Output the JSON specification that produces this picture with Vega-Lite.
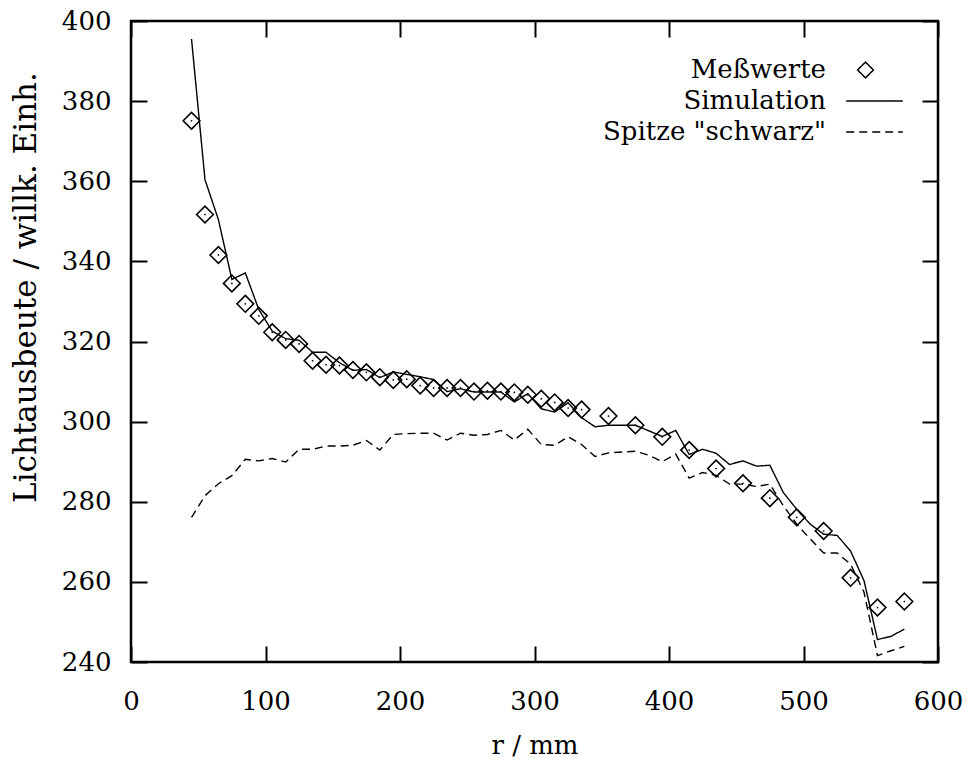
{
  "$schema": "https://vega.github.io/schema/vega-lite/v6.json",
  "width": 807,
  "height": 641,
  "autosize": {"type": "none"},
  "padding": {"left": 131, "top": 21, "right": 31, "bottom": 100},
  "background": "white",
  "config": {
    "view": {"stroke": "black", "strokeWidth": 2.5},
    "font": "DejaVu Serif",
    "axis": {
      "domain": false,
      "grid": false,
      "labelFlush": false,
      "labelOverlap": false,
      "tickColor": "black",
      "tickWidth": 2,
      "tickSize": -16,
      "labelFont": "DejaVu Serif",
      "labelFontSize": 26,
      "labelColor": "black",
      "titleFont": "DejaVu Serif",
      "titleFontSize": 26,
      "titleFontWeight": "normal",
      "titleColor": "black"
    },
    "legend": {
      "orient": "none", "legendX": 714, "legendY": 31, "title": null, "padding": 0,
      "rowPadding": 0, "symbolSize": 900,
      "symbolStrokeColor": "black", "symbolStrokeWidth": 1.5, "symbolFillColor": "transparent",
      "labelFont": "DejaVu Serif", "labelFontSize": 26, "labelColor": "black",
      "labelAlign": "right", "labelOffset": -78, "labelLimit": 400
    }
  },
  "datasets": {
    "mess": [
      {"series": "Meßwerte", "r": 45, "v": 375.1}, {"series": "Meßwerte", "r": 55, "v": 351.7},
      {"series": "Meßwerte", "r": 65, "v": 341.6}, {"series": "Meßwerte", "r": 75, "v": 334.5},
      {"series": "Meßwerte", "r": 85, "v": 329.4}, {"series": "Meßwerte", "r": 95, "v": 326.4},
      {"series": "Meßwerte", "r": 105, "v": 322.3}, {"series": "Meßwerte", "r": 115, "v": 320.4},
      {"series": "Meßwerte", "r": 125, "v": 319.4}, {"series": "Meßwerte", "r": 135, "v": 315.2},
      {"series": "Meßwerte", "r": 145, "v": 314.2}, {"series": "Meßwerte", "r": 155, "v": 314.0},
      {"series": "Meßwerte", "r": 165, "v": 312.9}, {"series": "Meßwerte", "r": 175, "v": 312.3},
      {"series": "Meßwerte", "r": 185, "v": 311.1}, {"series": "Meßwerte", "r": 195, "v": 310.4},
      {"series": "Meßwerte", "r": 205, "v": 310.6}, {"series": "Meßwerte", "r": 215, "v": 309.0},
      {"series": "Meßwerte", "r": 225, "v": 308.4}, {"series": "Meßwerte", "r": 235, "v": 308.4},
      {"series": "Meßwerte", "r": 245, "v": 308.4}, {"series": "Meßwerte", "r": 255, "v": 307.5},
      {"series": "Meßwerte", "r": 265, "v": 307.7}, {"series": "Meßwerte", "r": 275, "v": 307.5},
      {"series": "Meßwerte", "r": 285, "v": 307.3}, {"series": "Meßwerte", "r": 295, "v": 306.7},
      {"series": "Meßwerte", "r": 305, "v": 305.7}, {"series": "Meßwerte", "r": 315, "v": 304.8},
      {"series": "Meßwerte", "r": 325, "v": 303.4}, {"series": "Meßwerte", "r": 335, "v": 303.0},
      {"series": "Meßwerte", "r": 355, "v": 301.4}, {"series": "Meßwerte", "r": 375, "v": 299.1},
      {"series": "Meßwerte", "r": 395, "v": 296.2}, {"series": "Meßwerte", "r": 415, "v": 292.9},
      {"series": "Meßwerte", "r": 435, "v": 288.3}, {"series": "Meßwerte", "r": 455, "v": 284.6},
      {"series": "Meßwerte", "r": 475, "v": 280.9}, {"series": "Meßwerte", "r": 495, "v": 276.1},
      {"series": "Meßwerte", "r": 515, "v": 272.7}, {"series": "Meßwerte", "r": 535, "v": 261.0},
      {"series": "Meßwerte", "r": 555, "v": 253.6}, {"series": "Meßwerte", "r": 575, "v": 255.1}
    ],
    "lines": [
      {"series": "Simulation", "r": 45, "v": 395.5}, {"series": "Simulation", "r": 55, "v": 360.4},
      {"series": "Simulation", "r": 65, "v": 350.4}, {"series": "Simulation", "r": 75, "v": 335.5},
      {"series": "Simulation", "r": 85, "v": 337.1}, {"series": "Simulation", "r": 95, "v": 328.0},
      {"series": "Simulation", "r": 105, "v": 322.6}, {"series": "Simulation", "r": 115, "v": 320.7},
      {"series": "Simulation", "r": 125, "v": 320.3}, {"series": "Simulation", "r": 135, "v": 317.3},
      {"series": "Simulation", "r": 145, "v": 317.3}, {"series": "Simulation", "r": 155, "v": 314.7},
      {"series": "Simulation", "r": 165, "v": 312.8}, {"series": "Simulation", "r": 175, "v": 313.0},
      {"series": "Simulation", "r": 185, "v": 311.0}, {"series": "Simulation", "r": 195, "v": 312.4},
      {"series": "Simulation", "r": 205, "v": 311.8}, {"series": "Simulation", "r": 215, "v": 311.2},
      {"series": "Simulation", "r": 225, "v": 310.5}, {"series": "Simulation", "r": 235, "v": 307.5},
      {"series": "Simulation", "r": 245, "v": 308.2}, {"series": "Simulation", "r": 255, "v": 307.4},
      {"series": "Simulation", "r": 265, "v": 307.4}, {"series": "Simulation", "r": 275, "v": 307.4},
      {"series": "Simulation", "r": 285, "v": 304.9}, {"series": "Simulation", "r": 295, "v": 307.0},
      {"series": "Simulation", "r": 305, "v": 303.2}, {"series": "Simulation", "r": 315, "v": 302.4},
      {"series": "Simulation", "r": 325, "v": 304.7}, {"series": "Simulation", "r": 335, "v": 301.0},
      {"series": "Simulation", "r": 345, "v": 298.7}, {"series": "Simulation", "r": 355, "v": 299.1},
      {"series": "Simulation", "r": 365, "v": 299.1}, {"series": "Simulation", "r": 375, "v": 299.1},
      {"series": "Simulation", "r": 385, "v": 297.7}, {"series": "Simulation", "r": 395, "v": 296.3},
      {"series": "Simulation", "r": 405, "v": 297.8}, {"series": "Simulation", "r": 415, "v": 291.8},
      {"series": "Simulation", "r": 425, "v": 293.1}, {"series": "Simulation", "r": 435, "v": 292.1},
      {"series": "Simulation", "r": 445, "v": 289.3}, {"series": "Simulation", "r": 455, "v": 290.2},
      {"series": "Simulation", "r": 465, "v": 288.9}, {"series": "Simulation", "r": 475, "v": 289.1},
      {"series": "Simulation", "r": 485, "v": 282.3}, {"series": "Simulation", "r": 495, "v": 278.1},
      {"series": "Simulation", "r": 505, "v": 274.4}, {"series": "Simulation", "r": 515, "v": 271.9},
      {"series": "Simulation", "r": 525, "v": 271.6}, {"series": "Simulation", "r": 535, "v": 267.7},
      {"series": "Simulation", "r": 545, "v": 260.3}, {"series": "Simulation", "r": 555, "v": 245.6},
      {"series": "Simulation", "r": 565, "v": 246.4}, {"series": "Simulation", "r": 575, "v": 248.2},
      {"series": "Spitze \"schwarz\"", "r": 45, "v": 276.1}, {"series": "Spitze \"schwarz\"", "r": 55, "v": 281.5},
      {"series": "Spitze \"schwarz\"", "r": 65, "v": 284.5}, {"series": "Spitze \"schwarz\"", "r": 75, "v": 286.5},
      {"series": "Spitze \"schwarz\"", "r": 85, "v": 290.6}, {"series": "Spitze \"schwarz\"", "r": 95, "v": 290.2},
      {"series": "Spitze \"schwarz\"", "r": 105, "v": 290.8}, {"series": "Spitze \"schwarz\"", "r": 115, "v": 289.9},
      {"series": "Spitze \"schwarz\"", "r": 125, "v": 293.1}, {"series": "Spitze \"schwarz\"", "r": 135, "v": 293.1},
      {"series": "Spitze \"schwarz\"", "r": 145, "v": 293.9}, {"series": "Spitze \"schwarz\"", "r": 155, "v": 293.9},
      {"series": "Spitze \"schwarz\"", "r": 165, "v": 294.1}, {"series": "Spitze \"schwarz\"", "r": 175, "v": 295.3},
      {"series": "Spitze \"schwarz\"", "r": 185, "v": 292.9}, {"series": "Spitze \"schwarz\"", "r": 195, "v": 296.8},
      {"series": "Spitze \"schwarz\"", "r": 205, "v": 297.0}, {"series": "Spitze \"schwarz\"", "r": 215, "v": 297.1},
      {"series": "Spitze \"schwarz\"", "r": 225, "v": 297.1}, {"series": "Spitze \"schwarz\"", "r": 235, "v": 295.4},
      {"series": "Spitze \"schwarz\"", "r": 245, "v": 297.1}, {"series": "Spitze \"schwarz\"", "r": 255, "v": 296.6},
      {"series": "Spitze \"schwarz\"", "r": 265, "v": 296.8}, {"series": "Spitze \"schwarz\"", "r": 275, "v": 297.8},
      {"series": "Spitze \"schwarz\"", "r": 285, "v": 295.4}, {"series": "Spitze \"schwarz\"", "r": 295, "v": 298.1},
      {"series": "Spitze \"schwarz\"", "r": 305, "v": 294.3}, {"series": "Spitze \"schwarz\"", "r": 315, "v": 294.1},
      {"series": "Spitze \"schwarz\"", "r": 325, "v": 296.2}, {"series": "Spitze \"schwarz\"", "r": 335, "v": 294.3},
      {"series": "Spitze \"schwarz\"", "r": 345, "v": 291.3}, {"series": "Spitze \"schwarz\"", "r": 355, "v": 292.2},
      {"series": "Spitze \"schwarz\"", "r": 365, "v": 292.4}, {"series": "Spitze \"schwarz\"", "r": 375, "v": 292.6},
      {"series": "Spitze \"schwarz\"", "r": 385, "v": 291.6}, {"series": "Spitze \"schwarz\"", "r": 395, "v": 290.0},
      {"series": "Spitze \"schwarz\"", "r": 405, "v": 291.9}, {"series": "Spitze \"schwarz\"", "r": 415, "v": 285.9},
      {"series": "Spitze \"schwarz\"", "r": 425, "v": 287.3}, {"series": "Spitze \"schwarz\"", "r": 435, "v": 286.6},
      {"series": "Spitze \"schwarz\"", "r": 445, "v": 284.4}, {"series": "Spitze \"schwarz\"", "r": 455, "v": 284.4},
      {"series": "Spitze \"schwarz\"", "r": 465, "v": 283.8}, {"series": "Spitze \"schwarz\"", "r": 475, "v": 284.4},
      {"series": "Spitze \"schwarz\"", "r": 485, "v": 279.0}, {"series": "Spitze \"schwarz\"", "r": 495, "v": 274.4},
      {"series": "Spitze \"schwarz\"", "r": 505, "v": 270.7}, {"series": "Spitze \"schwarz\"", "r": 515, "v": 267.2},
      {"series": "Spitze \"schwarz\"", "r": 525, "v": 267.2}, {"series": "Spitze \"schwarz\"", "r": 535, "v": 264.4},
      {"series": "Spitze \"schwarz\"", "r": 545, "v": 257.4}, {"series": "Spitze \"schwarz\"", "r": 555, "v": 241.6},
      {"series": "Spitze \"schwarz\"", "r": 565, "v": 242.8}, {"series": "Spitze \"schwarz\"", "r": 575, "v": 243.9}
    ]
  },
  "layer": [
    {
      "data": {"name": "lines"},
      "mark": {"type": "line", "color": "black", "strokeWidth": 1.4},
      "encoding": {
        "x": {
          "field": "r", "type": "quantitative",
          "scale": {"domain": [0, 600], "nice": false, "zero": false},
          "axis": {"orient": "bottom", "values": [0, 100, 200, 300, 400, 500, 600], "title": "r / mm", "labelPadding": 42, "titleY": 83, "titleBaseline": "middle"}
        },
        "y": {
          "field": "v", "type": "quantitative",
          "scale": {"domain": [240, 400], "nice": false, "zero": false},
          "axis": {"orient": "left", "values": [240, 260, 280, 300, 320, 340, 360, 380, 400], "title": "Lichtausbeute / willk. Einh.", "titleFontSize": 31, "labelPadding": 36, "titleX": -105, "titleY": 266, "titleAngle": -90, "titleBaseline": "middle", "titleAlign": "center"}
        },
        "strokeDash": {
          "field": "series", "type": "nominal",
          "scale": {"domain": ["Meßwerte", "Simulation", "Spitze \"schwarz\""], "range": [[1, 0], [1, 0], [8, 5]]},
          "legend": {
            "encode": {
              "symbols": {
                "update": {
                  "size": {"signal": "datum.value === 'Meßwerte' ? 250 : 3200"},
                  "x": {"signal": "(datum.offset || datum.size) * 0.5 - (datum.value === 'Meßwerte' ? 9 : 0)"},
                  "y": {"value": 18},
                  "stroke": {"value": "black"},
                  "fill": {"value": "transparent"},
                  "opacity": {"value": 1}
                }
              },
              "labels": {
                "update": {
                  "y": {"value": 18}
                }
              }
            }
          }
        }
      }
    },
    {
      "data": {"name": "mess"},
      "mark": {"type": "point", "filled": false, "color": "black", "strokeWidth": 1.6, "opacity": 1, "size": 280},
      "encoding": {
        "x": {"field": "r", "type": "quantitative", "axis": {"orient": "top", "values": [0, 100, 200, 300, 400, 500, 600], "labels": false, "title": null}},
        "y": {"field": "v", "type": "quantitative", "axis": {"orient": "right", "values": [240, 260, 280, 300, 320, 340, 360, 380, 400], "labels": false, "title": null}},
        "shape": {
          "field": "series", "type": "nominal",
          "scale": {"domain": ["Meßwerte", "Simulation", "Spitze \"schwarz\""], "range": ["diamond", "stroke", "stroke"]}
        }
      }
    },
    {
      "data": {"name": "mess"},
      "mark": {"type": "point", "shape": "circle", "filled": true, "color": "black", "size": 3, "opacity": 1},
      "encoding": {
        "x": {"field": "r", "type": "quantitative", "axis": null},
        "y": {"field": "v", "type": "quantitative", "axis": null}
      }
    }
  ],
  "resolve": {"axis": {"x": "independent", "y": "independent"}}
}
